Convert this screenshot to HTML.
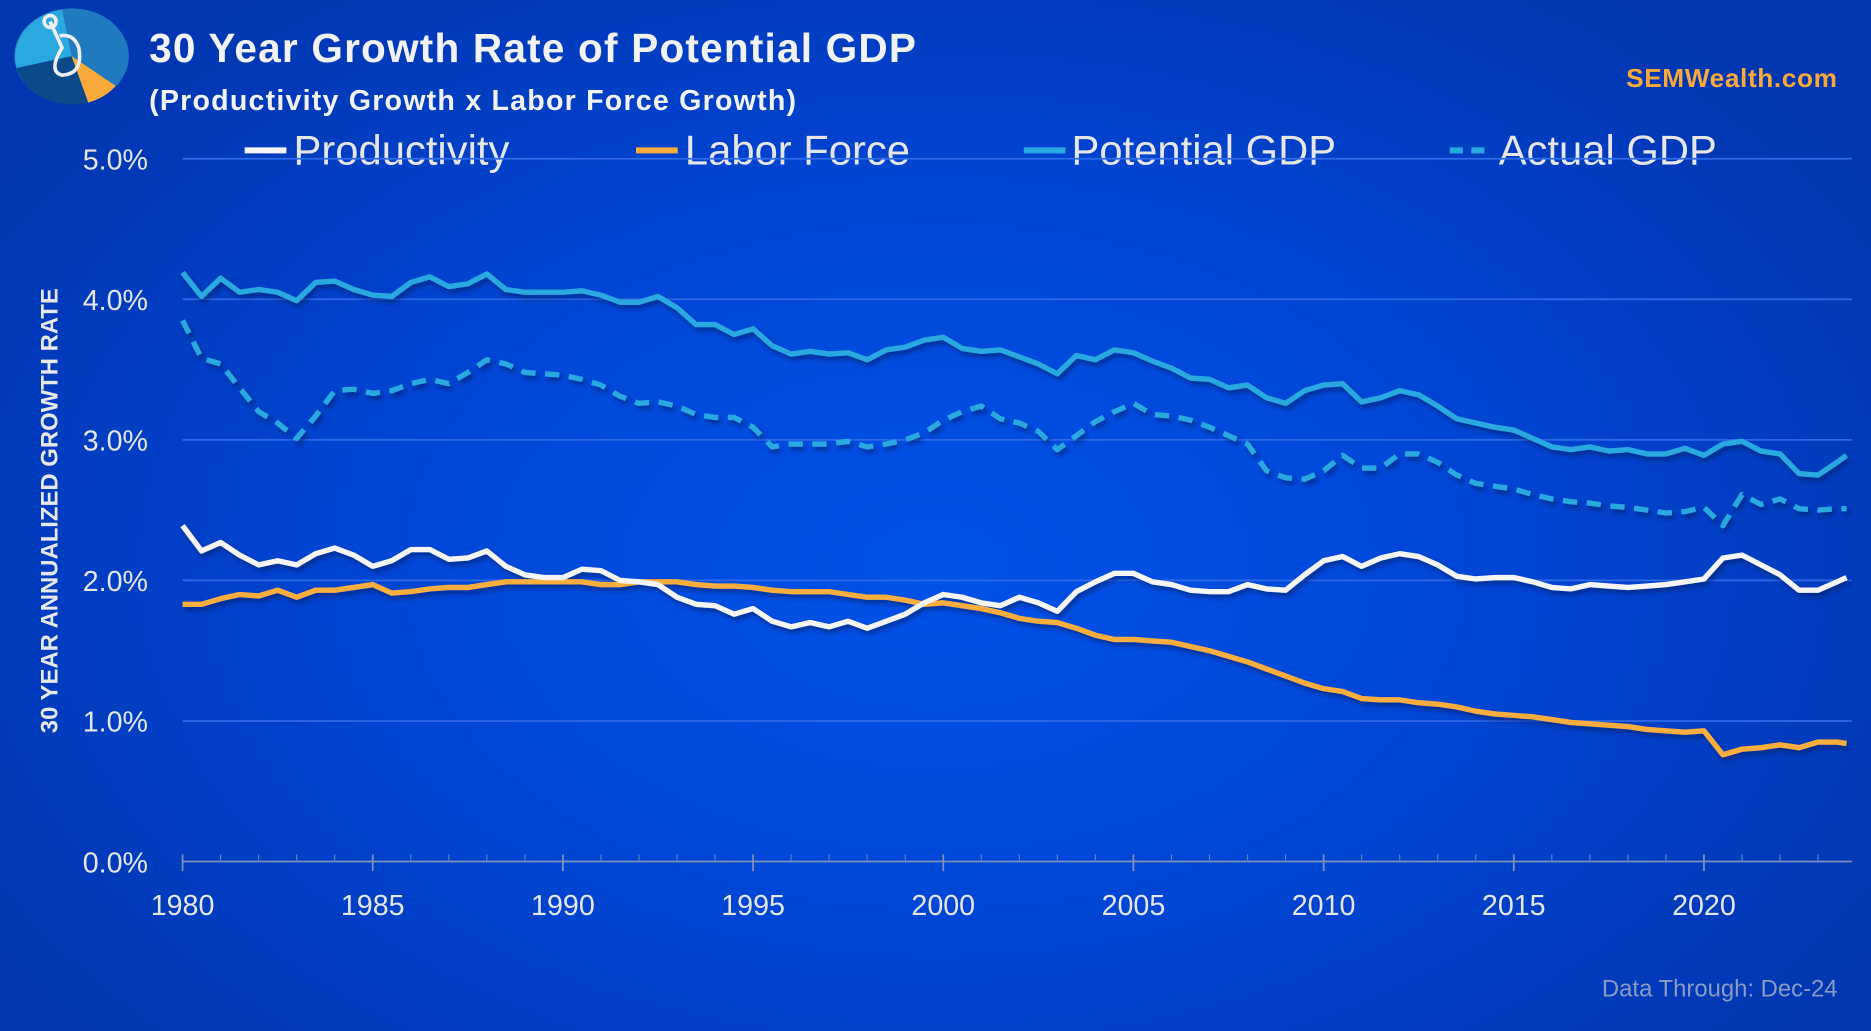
<!DOCTYPE html>
<html><head><meta charset="utf-8">
<style>
html,body{margin:0;padding:0;}
body{width:1871px;height:1031px;overflow:hidden;background:radial-gradient(ellipse 60% 70% at 50% 55%,#0052ea 0%,#0047d8 45%,#0036b0 100%);font-family:"Liberation Sans",sans-serif;}
svg{position:absolute;left:0;top:0;}
</style></head>
<body>
<svg id="chart" width="1871" height="1031" viewBox="0 0 1568 864">
  <defs>
    <filter id="sh" x="-5%" y="-5%" width="110%" height="120%"><feDropShadow dx="2" dy="3" stdDeviation="2" flood-color="#001a60" flood-opacity="0.6"/></filter>
  </defs>
  <g>
    <ellipse cx="60" cy="47" rx="48" ry="40" fill="#1f7ac0"/>
    <path d="M60 47 L14 57 A48 40 0 0 1 52 8 Z" fill="#2aa8e0"/>
    <path d="M60 47 L14 57 A48 40 0 0 0 74 86 Z" fill="#0a4a8a"/>
    <path d="M60 47 L74 86 A48 40 0 0 0 97 72 Z" fill="#f9a83a"/>
    <path d="M42 18 L52 40 Q40 60 52 63 Q70 62 66 40 Q62 28 50 30" fill="none" stroke="#eee" stroke-width="3"/>
    <circle cx="42" cy="18" r="5" fill="none" stroke="#eee" stroke-width="3"/>
  </g>
  <text x="125" y="52" font-size="34" font-weight="bold" fill="#f2f2f2" letter-spacing="1">30 Year Growth Rate of Potential GDP</text>
  <text x="125" y="92" font-size="24" font-weight="bold" fill="#f2f2f2" letter-spacing="1">(Productivity Growth x Labor Force Growth)</text>
  <text x="1540" y="73" font-size="22" font-weight="bold" fill="#f9a83a" text-anchor="end" letter-spacing="0.5">SEMWealth.com</text>
  <text x="1540" y="835" font-size="20" fill="#8b9bc4" text-anchor="end">Data Through:  Dec-24</text>
  <text transform="translate(48,428) rotate(-90)" font-size="20" font-weight="bold" fill="#e8e8e8" text-anchor="middle">30 YEAR  ANNUALIZED GROWTH RATE</text>
  <g>
    <g><line x1="205" y1="126" x2="240" y2="126" stroke="#f5f5f5" stroke-width="5"/><text x="246" y="138" font-size="35" fill="#e6e6e6">Productivity</text></g>
    <g><line x1="533" y1="126" x2="568" y2="126" stroke="#fbad3d" stroke-width="5"/><text x="574" y="138" font-size="35" fill="#e6e6e6">Labor Force</text></g>
    <g><line x1="858" y1="126" x2="893" y2="126" stroke="#29a9e1" stroke-width="5"/><text x="898" y="138" font-size="35" fill="#e6e6e6">Potential GDP</text></g>
    <g><line x1="1215" y1="126" x2="1250" y2="126" stroke="#29a9e1" stroke-width="5" stroke-dasharray="11 7"/><text x="1256" y="138" font-size="35" fill="#e6e6e6">Actual GDP</text></g>
  </g>
  <g id="grid"></g>
  <g id="yticks"></g>
  <g id="xticks"></g>
  <g id="series" filter="url(#sh)"></g>
</svg>
<script>
const yTicks=[0,1,2,3,4,5];
const xTickYears=[1980,1985,1990,1995,2000,2005,2010,2015,2020];
const potentialGDP=[4.19,4.02,4.15,4.05,4.07,4.05,3.99,4.12,4.13,4.07,4.03,4.02,4.12,4.16,4.09,4.11,4.18,4.07,4.05,4.05,4.05,4.06,4.03,3.98,3.98,4.02,3.94,3.82,3.82,3.75,3.79,3.67,3.61,3.63,3.61,3.62,3.57,3.64,3.66,3.71,3.73,3.65,3.63,3.64,3.59,3.54,3.47,3.60,3.57,3.64,3.62,3.56,3.51,3.44,3.43,3.37,3.39,3.30,3.26,3.35,3.39,3.40,3.27,3.30,3.35,3.32,3.24,3.15,3.12,3.09,3.07,3.01,2.95,2.93,2.95,2.92,2.93,2.90,2.90,2.94,2.89,2.97,2.99,2.92,2.90,2.76,2.75,2.84,2.89];
const actualGDP=[3.85,3.58,3.54,3.37,3.20,3.12,3.01,3.17,3.35,3.36,3.33,3.35,3.40,3.43,3.40,3.48,3.57,3.54,3.48,3.47,3.46,3.43,3.39,3.31,3.26,3.27,3.24,3.18,3.16,3.16,3.09,2.95,2.97,2.97,2.97,2.99,2.95,2.97,3.00,3.05,3.14,3.20,3.24,3.15,3.12,3.06,2.93,3.03,3.13,3.20,3.26,3.18,3.17,3.14,3.09,3.03,2.97,2.78,2.73,2.72,2.78,2.89,2.80,2.80,2.90,2.90,2.84,2.75,2.69,2.67,2.65,2.61,2.58,2.56,2.55,2.53,2.52,2.50,2.48,2.49,2.52,2.39,2.61,2.54,2.58,2.51,2.50,2.51,2.51];
const productivity=[2.39,2.21,2.27,2.18,2.11,2.14,2.11,2.19,2.23,2.18,2.10,2.14,2.22,2.22,2.15,2.16,2.21,2.10,2.04,2.02,2.02,2.08,2.07,2.00,1.99,1.97,1.88,1.83,1.82,1.76,1.80,1.71,1.67,1.70,1.67,1.71,1.66,1.71,1.76,1.84,1.90,1.88,1.84,1.82,1.88,1.84,1.78,1.92,1.99,2.05,2.05,1.99,1.97,1.93,1.92,1.92,1.97,1.94,1.93,2.04,2.14,2.17,2.10,2.16,2.19,2.17,2.11,2.03,2.01,2.02,2.02,1.99,1.95,1.94,1.97,1.96,1.95,1.96,1.97,1.99,2.01,2.16,2.18,2.11,2.04,1.93,1.93,1.99,2.02];
const laborForce=[1.83,1.83,1.87,1.90,1.89,1.93,1.88,1.93,1.93,1.95,1.97,1.91,1.92,1.94,1.95,1.95,1.97,1.99,1.99,1.99,1.99,1.99,1.97,1.97,1.99,1.99,1.99,1.97,1.96,1.96,1.95,1.93,1.92,1.92,1.92,1.90,1.88,1.88,1.86,1.83,1.84,1.82,1.80,1.77,1.73,1.71,1.70,1.66,1.61,1.58,1.58,1.57,1.56,1.53,1.50,1.46,1.42,1.37,1.32,1.27,1.23,1.21,1.16,1.15,1.15,1.13,1.12,1.10,1.07,1.05,1.04,1.03,1.01,0.99,0.98,0.97,0.96,0.94,0.93,0.92,0.93,0.76,0.80,0.81,0.83,0.81,0.85,0.85,0.84];
const dates=[];
for(let i=0;i<88;i++)dates.push(1980+i*0.5);
dates.push(2023.75);

const NS="http://www.w3.org/2000/svg";
const X0=153,X1=1428;
const xs=y=>X0+(y-1980)*(X1-X0)/40;
const ys=v=>722-v*117.8;
function mk(tag,attrs,parent){const e=document.createElementNS(NS,tag);for(const k in attrs)e.setAttribute(k,attrs[k]);parent.appendChild(e);return e;}
const grid=document.getElementById('grid'),yt=document.getElementById('yticks'),xt=document.getElementById('xticks'),ser=document.getElementById('series');
yTicks.forEach(t=>{
  const l=mk('line',{x1:X0,x2:1552,y1:ys(t),y2:ys(t),stroke:t===0?'#7f8fb8':'#2f6ae8','stroke-width':1.5},grid);
  
  
  const tx=mk('text',{x:124,y:ys(t)+9,'font-size':24,fill:'#e6e6e6','text-anchor':'end'},yt);
  tx.textContent=t.toFixed(1)+'%';
  
  
});
for(let y=1981;y<=2023;y++){
  const m=mk('line',{x1:xs(y),x2:xs(y),y1:716,y2:722,stroke:'#5f7fc8','stroke-width':1},xt);
  
  
}
xTickYears.forEach(y=>{
  const tk=mk('line',{x1:xs(y),x2:xs(y),y1:716,y2:730,stroke:'#7f8fb8','stroke-width':1.5},xt);
  
  
  const tx=mk('text',{x:xs(y),y:767,'font-size':24,fill:'#e6e6e6','text-anchor':'middle'},xt);
  tx.textContent=y;
  
  
});
function line(vals,color,dash,name){
  const d=vals.map((v,i)=>(i?'L':'M')+xs(dates[i]).toFixed(1)+' '+ys(v).toFixed(1)).join(' ');
  const p=mk('path',{d:d,fill:'none',stroke:color,'stroke-width':4.5,'stroke-linejoin':'round'},ser);
  if(dash)p.setAttribute('stroke-dasharray',dash);
  
  
}
line(potentialGDP,'#29a9e1',null,'potential-gdp-line');
line(actualGDP,'#29a9e1','12 8','actual-gdp-line');
line(laborForce,'#fbad3d',null,'labor-force-line');
line(productivity,'#f5f5f5',null,'productivity-line');
</script>
</body></html>
